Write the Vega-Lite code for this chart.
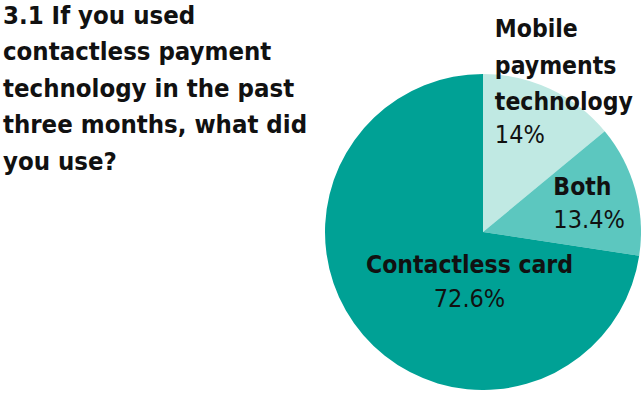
{
  "$schema": "https://vega.github.io/schema/vega-lite/v6.json",
  "autosize": "none",
  "width": 316,
  "height": 316,
  "padding": {"left": 325, "top": 74, "right": 0, "bottom": 0},
  "background": "white",
  "title": {
    "text": ["3.1 If you used", "contactless payment", "technology in the past", "three months, what did", "you use?"],
    "anchor": "start",
    "frame": "group",
    "orient": "top",
    "baseline": "top",
    "font": "DejaVu Sans Condensed, Roboto, sans-serif",
    "fontSize": 25.5,
    "fontWeight": "bold",
    "lineHeight": 36.5,
    "color": "#111111",
    "dx": -322,
    "dy": 158,
    "offset": 0
  },
  "data": {
    "values": [
      {"category": "Mobile payments technology", "label": "Mobile\npayments\ntechnology", "value": 14, "pct": "14%", "idx": 1},
      {"category": "Both", "label": "Both", "value": 13.4, "pct": "13.4%", "idx": 2},
      {"category": "Contactless card", "label": "Contactless card", "value": 72.6, "pct": "72.6%", "idx": 3}
    ]
  },
  "encoding": {
    "theta": {"field": "value", "type": "quantitative", "stack": true, "scale": {"domain": [0, 100]}},
    "order": {"field": "idx", "type": "quantitative"}
  },
  "layer": [
    {
      "mark": {"type": "arc", "stroke": null},
      "encoding": {
        "color": {
          "field": "category",
          "type": "nominal",
          "scale": {"domain": ["Mobile payments technology", "Both", "Contactless card"], "range": ["#c0e9e3", "#5cc7bf", "#00a195"]},
          "legend": null
        }
      }
    },
    {
      "mark": {"type": "text", "radius": 150, "align": "left", "baseline": "alphabetic", "dx": -52, "dy": -59, "font": "DejaVu Sans Condensed, Roboto, sans-serif", "fontSize": 24.5, "fontWeight": "bold", "lineHeight": 36.5, "lineBreak": "\n", "color": "#111111"},
      "encoding": {"text": {"condition": {"test": "datum.idx === 1", "field": "label"}, "value": ""}}
    },
    {
      "mark": {"type": "text", "radius": 150, "align": "left", "baseline": "alphabetic", "dx": -52, "dy": 47, "font": "DejaVu Sans Condensed, Roboto, sans-serif", "fontSize": 25, "fontWeight": "normal", "color": "#111111"},
      "encoding": {"text": {"condition": {"test": "datum.idx === 1", "field": "pct"}, "value": ""}}
    },
    {
      "mark": {"type": "text", "radius": 100, "align": "left", "baseline": "alphabetic", "dx": -26, "dy": -10, "font": "DejaVu Sans Condensed, Roboto, sans-serif", "fontSize": 24.5, "fontWeight": "bold", "color": "#111111"},
      "encoding": {"text": {"condition": {"test": "datum.idx === 2", "field": "label"}, "value": ""}}
    },
    {
      "mark": {"type": "text", "radius": 100, "align": "left", "baseline": "alphabetic", "dx": -26, "dy": 23, "font": "DejaVu Sans Condensed, Roboto, sans-serif", "fontSize": 25, "fontWeight": "normal", "color": "#111111"},
      "encoding": {"text": {"condition": {"test": "datum.idx === 2", "field": "pct"}, "value": ""}}
    },
    {
      "mark": {"type": "text", "radius": 60, "align": "center", "baseline": "alphabetic", "dx": 32, "dy": 2, "font": "DejaVu Sans Condensed, Roboto, sans-serif", "fontSize": 24.5, "fontWeight": "bold", "color": "#111111"},
      "encoding": {"text": {"condition": {"test": "datum.idx === 3", "field": "label"}, "value": ""}}
    },
    {
      "mark": {"type": "text", "radius": 60, "align": "center", "baseline": "alphabetic", "dx": 32, "dy": 36, "font": "DejaVu Sans Condensed, Roboto, sans-serif", "fontSize": 25, "fontWeight": "normal", "color": "#111111"},
      "encoding": {"text": {"condition": {"test": "datum.idx === 3", "field": "pct"}, "value": ""}}
    }
  ],
  "config": {"view": {"stroke": null}}
}
